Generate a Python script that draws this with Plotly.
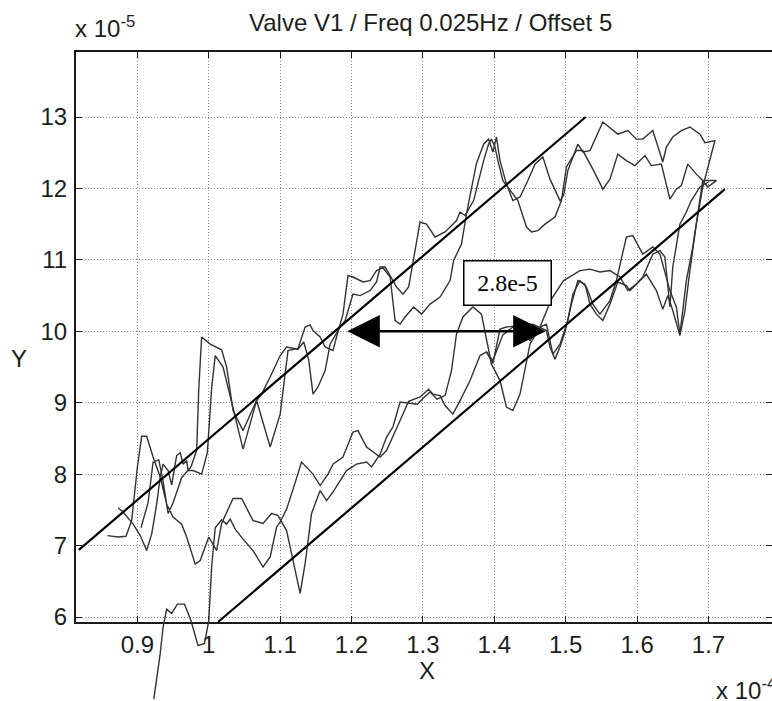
import plotly.graph_objects as go

# X is expressed in units of 1e-4, Y in units of 1e-5
X_TICKS = [0.9, 1.0, 1.1, 1.2, 1.3, 1.4, 1.5, 1.6, 1.7]
X_TICK_TEXT = ["0.9", "1", "1.1", "1.2", "1.3", "1.4", "1.5", "1.6", "1.7"]
Y_TICKS = [6, 7, 8, 9, 10, 11, 12, 13]
Y_TICK_TEXT = ["6", "7", "8", "9", "10", "11", "12", "13"]
X_RANGE = [0.814, 1.789]
Y_RANGE = [5.93, 13.91]

# first recorded cycle (starts below the axes, rising branch then falling branch)
run1_x = [0.923, 0.932, 0.936, 0.941, 0.948, 0.956, 0.966, 0.975, 0.985, 0.994,
          1.000, 1.004, 1.009, 1.018, 1.025, 1.030, 1.037, 1.048, 1.062, 1.076,
          1.086, 1.095, 1.100, 1.109, 1.120, 1.130, 1.146, 1.156, 1.167, 1.174,
          1.188, 1.202, 1.209, 1.221, 1.240, 1.249, 1.268, 1.280, 1.296, 1.308,
          1.314, 1.324, 1.331, 1.342, 1.352, 1.366, 1.380, 1.389, 1.398, 1.408,
          1.417, 1.438, 1.454, 1.473, 1.478, 1.485, 1.492, 1.499, 1.508, 1.517,
          1.527, 1.534, 1.543, 1.552, 1.562, 1.573, 1.585, 1.590, 1.599, 1.613,
          1.627, 1.636, 1.643, 1.650, 1.660, 1.667, 1.674, 1.683, 1.692, 1.699,
          1.709,
          1.695, 1.688, 1.674, 1.662, 1.650, 1.641, 1.636, 1.622, 1.608, 1.599,
          1.587, 1.573, 1.552, 1.534, 1.524, 1.517, 1.503, 1.497, 1.492, 1.478,
          1.468, 1.457, 1.447, 1.436, 1.426, 1.417, 1.408, 1.403, 1.398, 1.392,
          1.385, 1.375, 1.366, 1.361, 1.354, 1.343, 1.338, 1.324, 1.310, 1.298,
          1.287, 1.275, 1.268, 1.261, 1.254, 1.244, 1.235, 1.226, 1.216, 1.202,
          1.195, 1.188, 1.179, 1.174, 1.163, 1.156, 1.146, 1.142, 1.135, 1.125,
          1.111, 1.100, 1.086, 1.067, 1.048, 1.032, 1.020, 1.009, 1.004, 0.998,
          0.990, 0.978, 0.971, 0.969, 0.964, 0.960, 0.955, 0.948, 0.943, 0.936,
          0.932, 0.927, 0.920, 0.913, 0.904, 0.894, 0.880, 0.873]
run1_y = [4.85, 5.49, 5.86, 6.11, 6.05, 6.18, 6.18, 5.95, 5.60, 5.63,
          5.95, 6.70, 7.25, 7.36, 7.30, 7.37, 7.23, 7.09, 6.93, 6.70,
          6.84, 7.26, 7.33, 7.51, 7.85, 8.17, 8.00, 7.84, 8.00, 8.14,
          8.24, 8.59, 8.61, 8.38, 8.24, 8.33, 8.75, 9.02, 9.08, 9.19,
          9.12, 9.10, 8.96, 8.84, 9.03, 9.31, 9.66, 9.71, 9.55, 10.03,
          10.06, 10.08, 10.10, 10.01, 9.78, 9.61, 9.78, 9.99, 10.38, 10.71,
          10.66, 10.38, 10.24, 10.15, 10.38, 10.69, 10.64, 10.57, 10.66, 10.80,
          10.57, 10.31, 10.50, 10.29, 9.94, 10.29, 10.85, 11.50, 12.02, 12.30,
          12.67,
          12.64, 12.76, 12.86, 12.81, 12.72, 12.58, 12.37, 12.81, 12.69, 12.69,
          12.81, 12.76, 12.93, 12.53, 12.51, 12.62, 12.25, 11.90, 11.83, 12.13,
          12.44, 12.34, 12.11, 11.88, 11.83, 12.06, 12.39, 12.72, 12.51, 12.69,
          12.62, 12.35, 11.90, 11.64, 11.22, 10.99, 10.71, 10.48, 10.38, 10.24,
          10.34, 10.20, 10.10, 10.15, 10.76, 10.89, 10.85, 10.71, 10.69, 10.76,
          10.78, 10.24, 9.92, 9.73, 9.78, 9.92, 10.01, 10.09, 10.06, 9.76,
          9.73, 8.84, 8.38, 9.03, 8.35, 9.03, 9.50, 9.66, 9.20, 8.30,
          8.00, 8.05, 8.05, 8.19, 8.14, 8.30, 8.26, 7.85, 8.05, 8.14,
          7.96, 7.58, 7.16, 6.93, 7.14, 7.30, 7.47, 7.53]

# second recorded cycle
run2_x = [0.858, 0.873, 0.884, 0.892, 0.900, 0.906, 0.913, 0.922, 0.932, 0.941,
          0.950, 0.962, 0.969, 0.981, 0.988, 1.000, 1.011, 1.018, 1.034, 1.046,
          1.062, 1.076, 1.088, 1.097, 1.109, 1.118, 1.128, 1.135, 1.144, 1.156,
          1.165, 1.174, 1.184, 1.193, 1.207, 1.221, 1.228, 1.240, 1.249, 1.258,
          1.268, 1.280, 1.292, 1.300, 1.310, 1.320, 1.331, 1.340, 1.347, 1.356,
          1.370, 1.382, 1.391, 1.396, 1.408, 1.417, 1.426, 1.436, 1.450, 1.464,
          1.473, 1.482, 1.492, 1.503, 1.510, 1.520, 1.529, 1.538, 1.548, 1.562,
          1.571, 1.585, 1.594, 1.608, 1.622, 1.632, 1.646, 1.655, 1.660, 1.669,
          1.678, 1.692, 1.711,
          1.699, 1.692, 1.683, 1.671, 1.662, 1.655, 1.646, 1.634, 1.620, 1.611,
          1.597, 1.585, 1.573, 1.562, 1.552, 1.538, 1.524, 1.515, 1.501, 1.494,
          1.485, 1.471, 1.461, 1.452, 1.445, 1.433, 1.422, 1.412, 1.405, 1.401,
          1.396, 1.392, 1.385, 1.371, 1.359, 1.352, 1.347, 1.331, 1.317, 1.305,
          1.296, 1.287, 1.280, 1.272, 1.263, 1.254, 1.247, 1.240, 1.235, 1.226,
          1.212, 1.202, 1.191, 1.184, 1.170, 1.163, 1.153, 1.146, 1.140, 1.133,
          1.125, 1.109, 1.100, 1.086, 1.074, 1.067, 1.048, 1.034, 1.025, 1.018,
          1.009, 1.002, 0.990, 0.986, 0.983, 0.975, 0.962, 0.950, 0.943, 0.936,
          0.930, 0.922, 0.915, 0.905]
run2_y = [7.14, 7.12, 7.13, 7.35, 8.10, 8.53, 8.53, 8.24, 7.96, 7.58,
          7.40, 7.30, 7.12, 6.74, 6.79, 7.12, 6.93, 7.31, 7.66, 7.66,
          7.35, 7.31, 7.45, 7.42, 7.21, 6.79, 6.33, 6.75, 7.45, 7.77,
          7.63, 7.75, 7.91, 8.05, 8.14, 8.17, 8.10, 8.28, 8.52, 8.66,
          9.01, 9.00, 8.98, 9.06, 9.15, 9.05, 9.10, 9.45, 9.96, 10.20,
          10.34, 10.24, 9.78, 9.54, 9.31, 8.94, 8.89, 9.12, 9.82, 10.06,
          10.10, 9.68, 9.82, 10.15, 10.52, 10.71, 10.62, 10.38, 10.24, 10.43,
          10.71, 11.32, 11.34, 11.08, 11.18, 11.08, 10.57, 10.34, 9.96, 10.71,
          11.18, 12.11, 12.11,
          12.02, 12.11, 12.20, 12.34, 12.04, 11.99, 11.85, 12.34, 12.32, 12.46,
          12.32, 12.39, 12.48, 12.13, 11.99, 12.27, 12.53, 12.53, 12.30, 11.83,
          11.60, 11.50, 11.41, 11.39, 11.46, 11.83, 11.97, 12.11, 12.39, 12.58,
          12.69, 12.62, 12.39, 11.83, 11.62, 11.67, 11.55, 11.39, 11.32, 11.50,
          11.53, 10.99, 10.62, 10.52, 10.62, 10.78, 10.90, 10.90, 10.69, 10.57,
          10.50, 10.52, 10.15, 10.06, 9.82, 9.45, 9.22, 9.12, 9.60, 9.85,
          9.75, 9.78, 9.66, 9.36, 9.12, 9.03, 8.61, 8.89, 9.50, 9.74,
          9.78, 9.82, 9.92, 9.20, 8.33, 8.10, 7.95, 7.60, 7.45, 7.90,
          8.20, 8.17, 7.60, 7.25]

# third, partial pass on the rising branch
run3_x = [1.389, 1.398, 1.412, 1.426, 1.440, 1.450, 1.464, 1.480, 1.497, 1.520,
          1.534, 1.548, 1.562, 1.576, 1.587, 1.599, 1.608, 1.622, 1.632, 1.639,
          1.646, 1.650, 1.660, 1.669, 1.676, 1.688, 1.700]
run3_y = [9.71, 9.59, 9.95, 10.06, 9.96, 9.87, 10.06, 10.45, 10.71, 10.85,
          10.87, 10.83, 10.85, 10.76, 10.57, 10.66, 10.76, 11.08, 11.13, 11.04,
          10.34, 10.90, 11.50, 11.67, 11.83, 12.02, 12.09]

# fitted straight lines for the two branches
fit_upper_x = [0.818, 1.528]
fit_upper_y = [6.94, 13.00]
fit_lower_x = [1.013, 1.723]
fit_lower_y = [5.93, 11.99]

# horizontal offset between the two branches at Y = 10
OFFSET_LABEL = "2.8e-5"
OFFSET = 0.28          # 2.8e-5 in units of 1e-4
ARROW_MID = 1.332
ARROW_Y = 10.0
LABEL_X = 1.419
LABEL_Y = 10.67

W, H = 772, 701
LEFT, RIGHT, TOP, BOTTOM = 76, 772, 52, 622


def px(x):
    return x / W


def py(y):
    return 1 - y / H


# full-frame axes sharing the main scale, so traces may run past the frame
sx = (X_RANGE[1] - X_RANGE[0]) / (RIGHT - LEFT)
sy = (Y_RANGE[1] - Y_RANGE[0]) / (BOTTOM - TOP)
x2_range = [X_RANGE[0] - LEFT * sx, X_RANGE[1] + (W - RIGHT) * sx]
y2_range = [Y_RANGE[0] - (H - BOTTOM) * sy, Y_RANGE[1] + TOP * sy]

FONT = "Liberation Sans, Arial, sans-serif"
FONT_SIZE = 24
TEXT_COLOR = "#1e1e1e"
TRACE_COLOR = "#333333"

fig = go.Figure()

for xs, ys in [(run1_x, run1_y), (run2_x, run2_y), (run3_x, run3_y)]:
    fig.add_trace(go.Scatter(x=xs, y=ys, mode="lines", xaxis="x2", yaxis="y2",
                             line=dict(color=TRACE_COLOR, width=1.4),
                             showlegend=False, hoverinfo="skip"))

for xs, ys in [(fit_upper_x, fit_upper_y), (fit_lower_x, fit_lower_y)]:
    fig.add_trace(go.Scatter(x=xs, y=ys, mode="lines", xaxis="x2", yaxis="y2",
                             line=dict(color="black", width=2.2),
                             showlegend=False, hoverinfo="skip"))

axis_common = dict(
    showline=True, linecolor="#1a1a1a", linewidth=2, mirror="ticks",
    ticks="inside", ticklen=6, tickwidth=1.2, tickcolor="#1a1a1a",
    showgrid=True, gridcolor="#8a8a8a", gridwidth=1, griddash="1px,2px",
    zeroline=False, tickfont=dict(family=FONT, size=FONT_SIZE, color=TEXT_COLOR),
    automargin=False, fixedrange=True,
)

fig.update_layout(
    width=W, height=H,
    margin=dict(l=0, r=0, t=0, b=0),
    paper_bgcolor="white",
    plot_bgcolor="rgba(0,0,0,0)",
    showlegend=False,
    xaxis=dict(domain=[px(LEFT), px(RIGHT)], range=X_RANGE,
               tickvals=X_TICKS, ticktext=X_TICK_TEXT, ticklabelstandoff=0,
               anchor="y", **axis_common),
    yaxis=dict(domain=[py(BOTTOM), py(TOP)], range=Y_RANGE,
               tickvals=Y_TICKS, ticktext=Y_TICK_TEXT, ticklabelstandoff=2,
               anchor="x", **axis_common),
    xaxis2=dict(domain=[0, 1], range=x2_range, visible=False, anchor="y2",
                fixedrange=True),
    yaxis2=dict(domain=[0, 1], range=y2_range, visible=False, anchor="x2",
                fixedrange=True),
)

annotations = [
    dict(text="Valve V1 / Freq 0.025Hz / Offset 5", x=px(430), y=py(23),
         xanchor="center", yanchor="middle"),
    dict(text="x 10<sup>-5</sup>", x=px(73), y=py(44),
         xanchor="left", yanchor="bottom"),
    dict(text="Y", x=px(19), y=py(358), xanchor="center", yanchor="middle"),
    dict(text="X", x=px(427), y=py(670), xanchor="center", yanchor="middle"),
    dict(text="x 10<sup>-4</sup>", x=px(714), y=py(706),
         xanchor="left", yanchor="bottom"),
]
for a in annotations:
    fig.add_annotation(xref="paper", yref="paper", showarrow=False,
                       font=dict(family=FONT, size=FONT_SIZE, color=TEXT_COLOR),
                       **a)

# double-headed arrow spanning the offset
fig.add_annotation(
    xref="x", yref="y", axref="x", ayref="y",
    x=ARROW_MID + OFFSET / 2, y=ARROW_Y,
    ax=ARROW_MID - OFFSET / 2, ay=ARROW_Y,
    text="", showarrow=True, arrowside="end+start",
    arrowhead=2, startarrowhead=2, arrowsize=2.6, startarrowsize=2.6,
    arrowwidth=2.5, arrowcolor="black", standoff=0, startstandoff=0,
)

# boxed offset value
fig.add_annotation(
    xref="x", yref="y", x=LABEL_X, y=LABEL_Y, text=OFFSET_LABEL,
    showarrow=False, xanchor="center", yanchor="middle",
    font=dict(family="Liberation Serif, Times New Roman, serif", size=24,
              color="black"),
    bgcolor="white", bordercolor="black", borderwidth=1.5, borderpad=1,
    width=84, height=41,
)

fig.write_html("out.html")
